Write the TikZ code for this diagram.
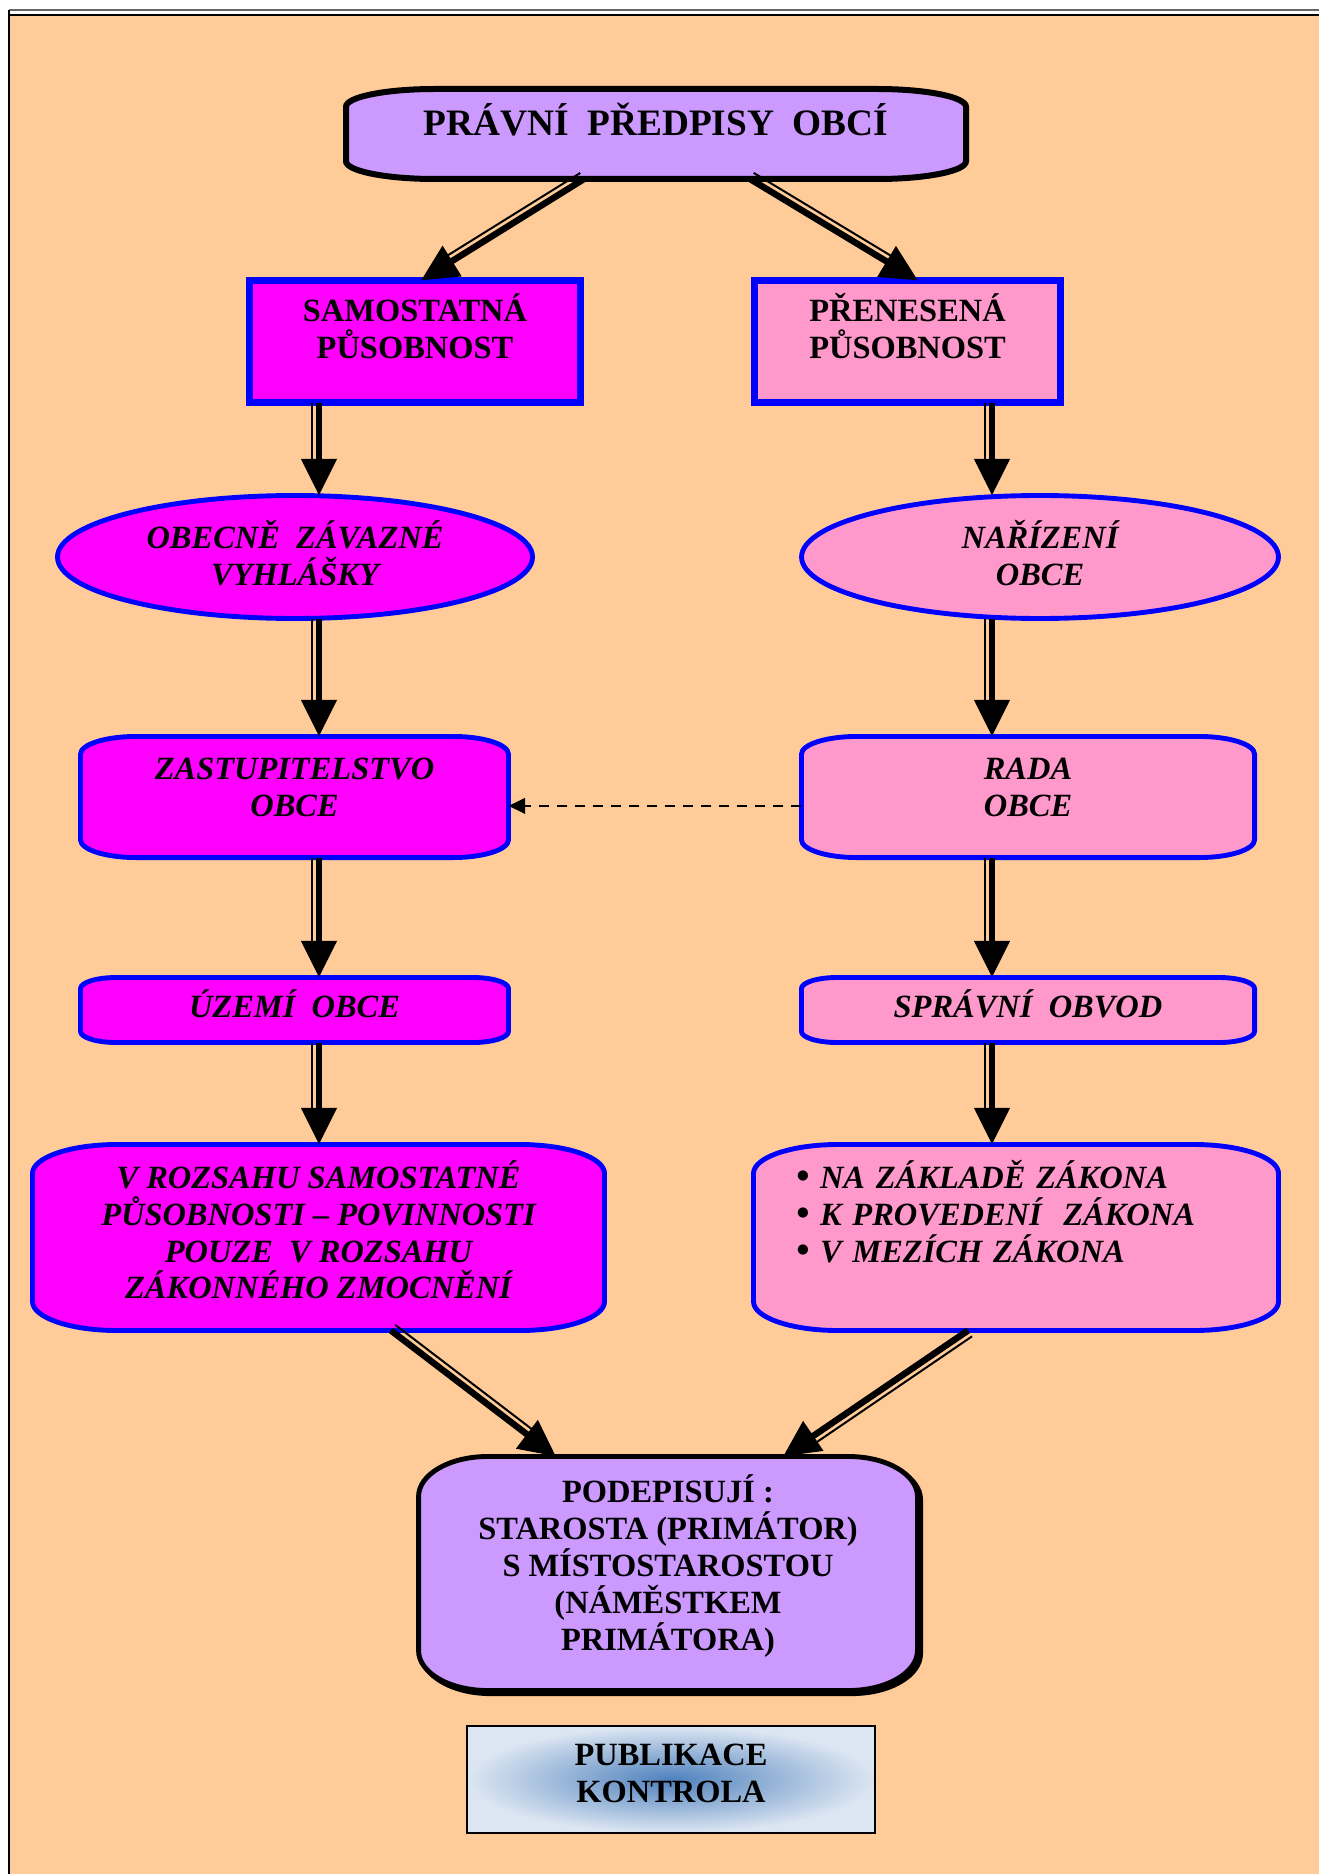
\documentclass[tikz,border=0pt]{standalone}
\usepackage{fontspec}
\setmainfont{Liberation Serif}
\usetikzlibrary{arrows.meta,calc,shapes.geometric,backgrounds}

\definecolor{peach}{RGB}{255,204,153}
\definecolor{lilac}{RGB}{204,153,255}
\definecolor{magentac}{RGB}{255,0,255}
\definecolor{pinkc}{RGB}{255,153,204}
\definecolor{boxblue}{RGB}{0,0,255}
\definecolor{steel}{RGB}{79,129,189}
\definecolor{paleblue}{RGB}{220,230,242}

% push the text up inside its box
\newcommand\dn[1]{\rule[-#1]{0pt}{0pt}}
% a bigger bullet
\newcommand\bul{{\fontsize{17}{16.6}\selectfont\textbullet}}
% box with elliptic corners round a node
\newcommand\ebox[4]{%
	\path[#4] ([xshift=#2]#1.north west) -- ([xshift=-#2]#1.north east)
		arc[start angle=90, end angle=0, x radius=#2, y radius=#3]
		-- ([yshift=#3]#1.south east)
		arc[start angle=0, end angle=-90, x radius=#2, y radius=#3]
		-- ([xshift=#2]#1.south west)
		arc[start angle=-90, end angle=-180, x radius=#2, y radius=#3]
		-- ([yshift=-#3]#1.north west)
		arc[start angle=180, end angle=90, x radius=#2, y radius=#3] -- cycle;}
% thick arrow with a thin line beside it
\newcommand\dblarrow[3]{%
	\draw[thickarrow] #1 -- #2;
	\draw[thinline] ($#1!#3!90:#2$) -- ($#2!#3!-90:#1$);}

\begin{document}
\begin{tikzpicture}[
			x=0.45pt, y=0.45pt,
			txt/.style={
				align=center,
				inner sep=0pt,
				outer sep=0pt
			},
			titlefont/.style={font=\fontsize{16.8}{19}\selectfont\bfseries},
			capfont/.style={font=\fontsize{14.6}{16.6}\selectfont\bfseries},
			itfont/.style={font=\fontsize{14.6}{16.6}\selectfont\bfseries\itshape},
			sqbox/.style={
				txt, capfont,
				draw=boxblue,
				line width=3.2pt,
				minimum width=#1,
				minimum height=55pt
			},
			elbox/.style={
				txt, itfont,
				ellipse,
				draw=boxblue,
				line width=2.2pt,
				minimum width=#1,
				minimum height=55.35pt
			},
			magbox/.style={fill=magentac, draw=boxblue, line width=2.2pt},
			pinkbox/.style={fill=pinkc, draw=boxblue, line width=2.2pt},
			publbox/.style={
				txt, capfont,
				draw=black,
				line width=0.9pt,
				inner color=steel,
				outer color=paleblue,
				minimum width=183.6pt,
				minimum height=48.1pt
			},
			thickarrow/.style={
				line width=2.9pt,
				-{Triangle[length=16.5pt, width=15.5pt]}
			},
			thinline/.style={
				line width=0.9pt,
				shorten >=11pt
			},
			dasharrow/.style={
				line width=1pt,
				dash pattern=on 4.5pt off 3.6pt,
				-{Triangle[length=7.5pt, width=7pt]}
			}
		]

		\useasboundingbox (0,0) rectangle (1319,-1874);
		\draw[line width=0.7pt, black!60] (9,-10) -- (1319,-10);
		\draw[line width=1.2pt] (9,-15) -- (1319,-15);
		\draw[line width=0.9pt] (9,-10) -- (9,-1874);

		\node[txt, titlefont, minimum width=279pt, minimum height=40.5pt] (top) at (656,-134) {PRÁVNÍ~~PŘEDPISY~~OBCÍ\dn{12.9pt}};
		\node[sqbox=149pt, fill=magentac] (sam) at (415,-341.5) {SAMOSTATNÁ\\PŮSOBNOST\dn{14.2pt}};
		\node[sqbox=137.7pt, fill=pinkc] (pre) at (907.5,-341.5) {PŘENESENÁ\\PŮSOBNOST\dn{14.2pt}};
		\node[elbox=213.75pt, fill=magentac] (ozv) at (295,-557) {OBECNĚ~~ZÁVAZNÉ\\VYHLÁŠKY\dn{3.4pt}};
		\node[elbox=214.6pt, fill=pinkc] (nar) at (1040,-557) {NAŘÍZENÍ\\OBCE\dn{3.4pt}};
		\node[txt, itfont, minimum width=192.6pt, minimum height=54.5pt] (zast) at (294.5,-797) {ZASTUPITELSTVO\\OBCE\dn{9.1pt}};
		\node[txt, itfont, minimum width=203.9pt, minimum height=54.5pt] (rada) at (1028,-797) {RADA\\OBCE\dn{9.1pt}};
		\node[txt, itfont, minimum width=192.6pt, minimum height=29.25pt] (uzemi) at (294.5,-1010) {ÚZEMÍ~~OBCE\dn{6pt}};
		\node[txt, itfont, minimum width=203.9pt, minimum height=29.25pt] (obvod) at (1028,-1010) {SPRÁVNÍ~~OBVOD\dn{6pt}};
		\node[txt, itfont, minimum width=257.4pt, minimum height=83.7pt] (rozsah) at (318.5,-1237.5) {V ROZSAHU SAMOSTATNÉ\\PŮSOBNOSTI – POVINNOSTI\\POUZE~~V ROZSAHU\\ZÁKONNÉHO ZMOCNĚNÍ\dn{7pt}};
		\node[txt, itfont, align=left, text width=198pt, minimum width=236.25pt, minimum height=83.7pt] (zakon) at (1016,-1237.5) {\bul{} NA ZÁKLADĚ ZÁKONA\\\bul{} K PROVEDENÍ~~ZÁKONA\\\bul{} V MEZÍCH ZÁKONA\dn{23.2pt}};
		\node[txt, capfont, minimum width=224.5pt, minimum height=105.3pt] (podp) at (668,-1573.5) {PODEPISUJÍ :\\STAROSTA (PRIMÁTOR)\\S MÍSTOSTAROSTOU\\(NÁMĚSTKEM\\PRIMÁTORA)\dn{9.7pt}};
		\node[publbox] (publ) at (671,-1779.5) {PUBLIKACE\\KONTROLA\dn{5.5pt}};

		\begin{pgfonlayer}{background}
			\fill[peach] (9,-15) rectangle (1319,-1874);
			\ebox{top}{40pt}{8pt}{fill=lilac, draw=black, line width=2.7pt}
			\ebox{zast}{25pt}{8pt}{magbox}
			\ebox{rada}{25pt}{8pt}{pinkbox}
			\ebox{uzemi}{16pt}{5pt}{magbox}
			\ebox{obvod}{16pt}{5pt}{pinkbox}
			\ebox{rozsah}{38pt}{13pt}{magbox}
			\ebox{zakon}{38pt}{13pt}{pinkbox}
			\ebox{podp}{31pt}{18pt}{fill=black, draw=black, line width=2.2pt, transform canvas={shift={(1.4pt,-1.4pt)}}}
			\ebox{podp}{31pt}{18pt}{fill=lilac, draw=black, line width=2.2pt}
		\end{pgfonlayer}

		\coordinate (L) at (319,0);
		\coordinate (R) at (992,0);

		\dblarrow{([xshift=-32.4pt]top.south)}{([xshift=2.7pt]sam.north)}{-3.2pt}
		\dblarrow{([xshift=42.3pt]top.south)}{([xshift=4.7pt]pre.north)}{3.2pt}
		\dblarrow{(sam.south -| L)}{(ozv.north -| L)}{-3.2pt}
		\dblarrow{(pre.south -| R)}{(nar.north -| R)}{-3.2pt}
		\dblarrow{(ozv.south -| L)}{(zast.north -| L)}{-3.2pt}
		\dblarrow{(nar.south -| R)}{(rada.north -| R)}{-3.2pt}
		\dblarrow{(zast.south -| L)}{(uzemi.north -| L)}{-3.2pt}
		\dblarrow{(rada.south -| R)}{(obvod.north -| R)}{-3.2pt}
		\dblarrow{(uzemi.south -| L)}{(rozsah.north -| L)}{-3.2pt}
		\dblarrow{(obvod.south -| R)}{(zakon.north -| R)}{-3.2pt}
		\dblarrow{([xshift=32.6pt]rozsah.south)}{([xshift=-50.4pt]podp.north)}{3.2pt}
		\dblarrow{([xshift=-21.6pt]zakon.south)}{([xshift=51.75pt]podp.north)}{3.2pt}
		\draw[dasharrow] ([yshift=-4pt]rada.west) -- ([yshift=-4pt]zast.east);

	\end{tikzpicture}
\end{document}
